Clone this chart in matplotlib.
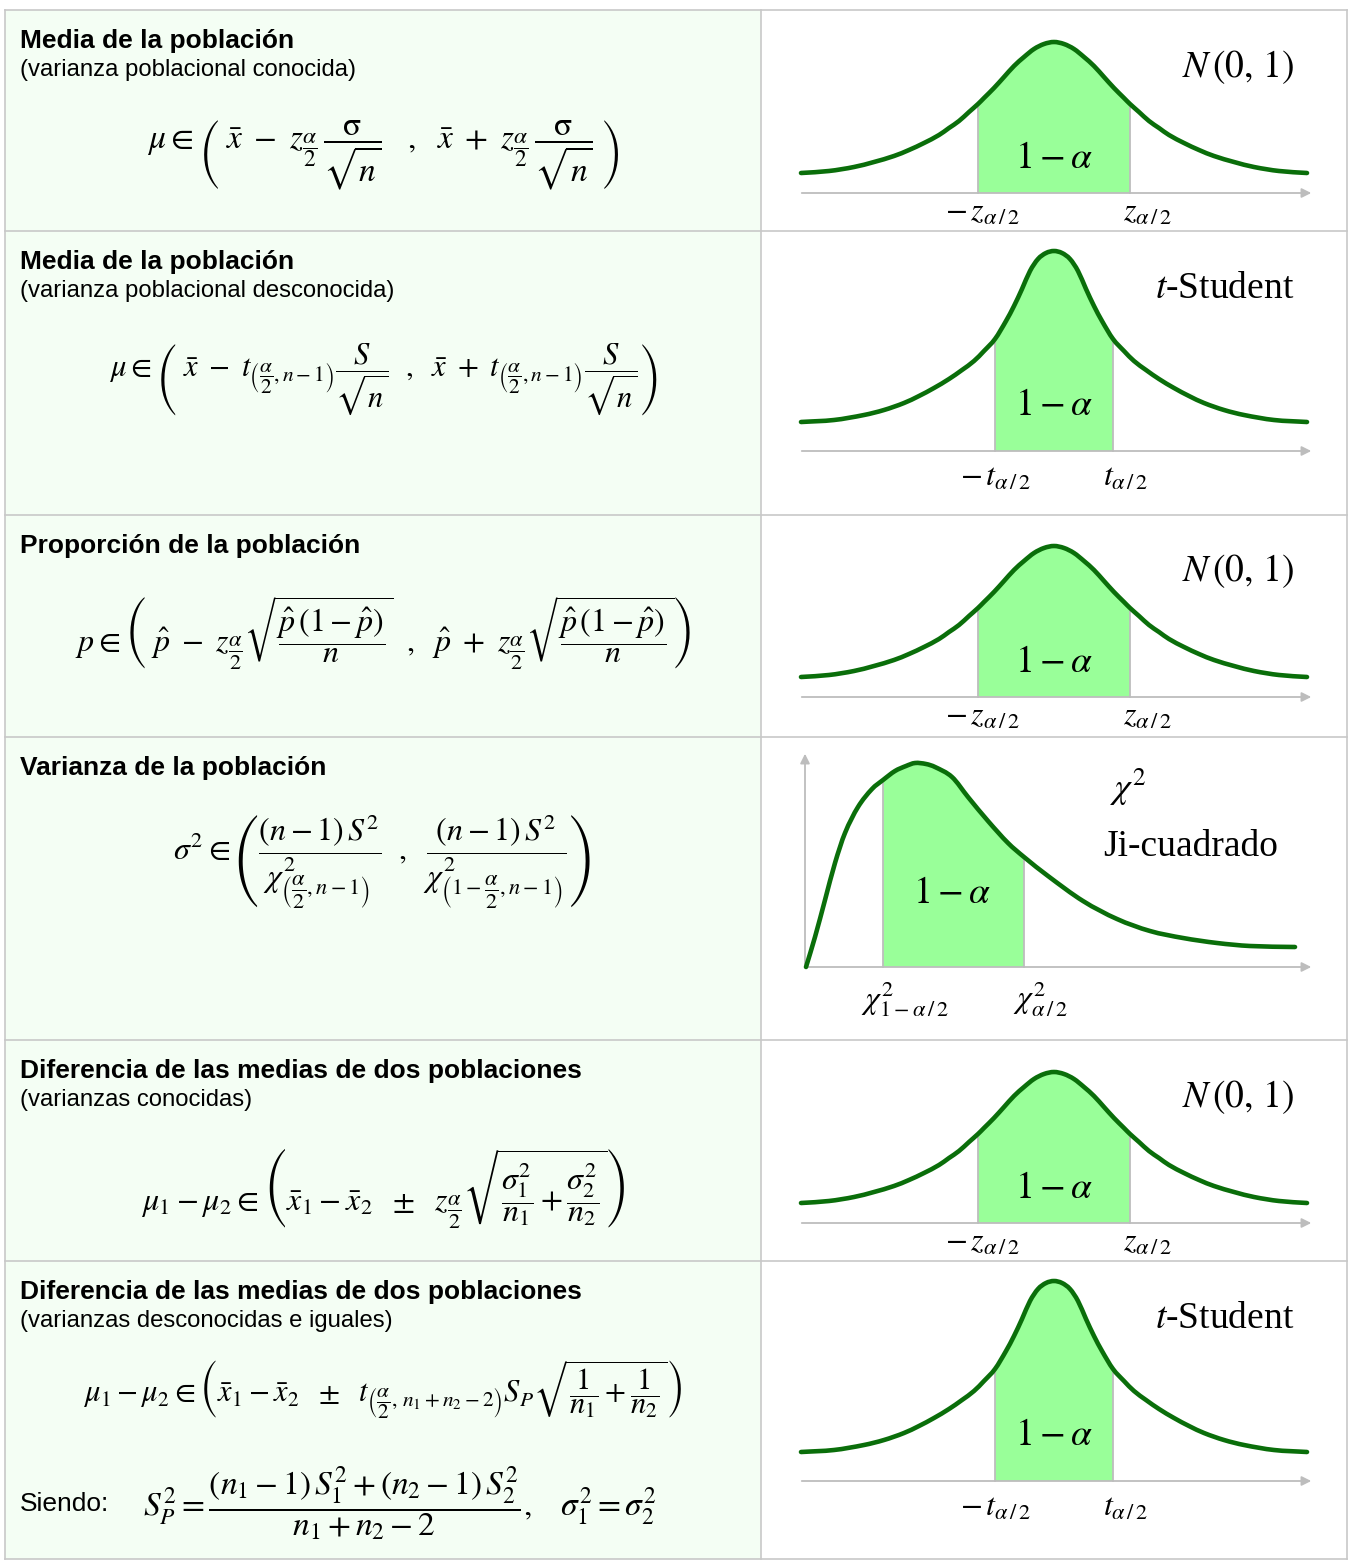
import numpy as np
import matplotlib
matplotlib.use('Agg')
import matplotlib.pyplot as plt
from matplotlib.path import Path
from matplotlib.patches import PathPatch, Rectangle

plt.rcParams['mathtext.fontset'] = 'stix'
plt.rcParams['font.family'] = ['Liberation Sans', 'DejaVu Sans']

W, H = 1349, 1560

# ------------------------------------------------------------------ data
titles = ["Media de la población", "Media de la población", "Proporción de la población",
          "Varianza de la población", "Diferencia de las medias de dos poblaciones",
          "Diferencia de las medias de dos poblaciones"]
subtitles = ["(varianza poblacional conocida)", "(varianza poblacional desconocida)", None,
             None, "(varianzas conocidas)", "(varianzas desconocidas e iguales)"]
formulas = [
    r'$\mu \in \left(\;\bar{x}\ -\ z_{\dfrac{\alpha}{2}}\,\dfrac{\mathrm{\sigma}}{\sqrt{n}}\quad,\ \ \bar{x}\ +\ z_{\dfrac{\alpha}{2}}\,\dfrac{\mathrm{\sigma}}{\sqrt{n}}\;\right)$',
    r'$\mu \in \left(\;\bar{x}\ -\ t_{\left(\dfrac{\alpha}{2},n-1\right)}\dfrac{S}{\sqrt{n}}\ \ ,\ \ \bar{x}\ +\ t_{\left(\dfrac{\alpha}{2},n-1\right)}\dfrac{S}{\sqrt{n}}\right)$',
    r'$p \in \left(\;\hat{p}\ -\ z_{\dfrac{\alpha}{2}}\sqrt{\dfrac{\hat{p}\,(1-\hat{p})}{n}}\ \ ,\ \ \hat{p}\ +\ z_{\dfrac{\alpha}{2}}\sqrt{\dfrac{\hat{p}\,(1-\hat{p})}{n}}\right)$',
    r'$\sigma^2 \in \left(\dfrac{(n-1)\,S^2}{\chi^{2}_{\left(\dfrac{\alpha}{2},n-1\right)}}\ \ ,\ \ \dfrac{(n-1)\,S^2}{\chi^{2}_{\left(1-\dfrac{\alpha}{2},n-1\right)}}\right)$',
    r'$\mu_1-\mu_2 \in \left(\bar{x}_1-\bar{x}_2\ \ \pm\ \ z_{\dfrac{\alpha}{2}}\sqrt{\dfrac{\sigma_1^2}{n_1}+\dfrac{\sigma_2^2}{n_2}}\right)$',
    r'$\mu_1-\mu_2 \in \left(\bar{x}_1-\bar{x}_2\ \ \pm\ \ t_{\left(\dfrac{\alpha}{2},\,n_1+n_2-2\right)}S_P\sqrt{\dfrac{1}{n_1}+\dfrac{1}{n_2}}\right)$',
]
formula_size = [24, 22, 23, 23, 23, 22]
siendo_label = "Siendo:"
siendo_formula = r'$S_P^2=\dfrac{(n_1-1)\,S_1^2+(n_2-1)\,S_2^2}{n_1+n_2-2},\quad \sigma_1^2=\sigma_2^2$'

# curve shapes (offset from centre, height above axis)
norm_x = [-253, -225, -200, -180, -160, -145, -130, -115, -105, -95, -85, -76, -70, -60, -50, -40, -30, -20, -10,
          0, 10, 20, 30, 40, 50, 60, 70, 76, 85, 95, 105, 115, 130, 145, 160, 180, 200, 225, 253]
norm_y = [20, 22, 26, 31, 37, 43, 50, 58, 65, 72, 81, 89, 95, 105, 116, 127, 136, 144, 149,
          151, 149, 144, 136, 127, 116, 105, 95, 89, 81, 72, 65, 58, 50, 43, 37, 31, 26, 22, 20]
norm_crit = 76

t_x = [-253, -220, -190, -170, -150, -135, -120, -105, -92, -80, -70, -59, -48, -40, -32, -24, -16, -8,
       0, 8, 16, 24, 32, 40, 48, 59, 70, 80, 92, 105, 120, 135, 150, 170, 190, 220, 253]
t_y = [29, 31, 36, 41, 48, 55, 63, 72, 81, 90, 100, 112, 130, 145, 162, 180, 192, 198,
       200, 198, 192, 180, 162, 145, 130, 112, 100, 90, 81, 72, 63, 55, 48, 41, 36, 31, 29]
t_crit = 59

chi_x = [0, 9, 19, 29, 39, 52, 66, 77, 89, 100, 109, 120, 129, 146, 162, 182, 202, 218, 242, 277, 311, 344, 377, 411, 444, 489]
chi_y = [0, 30, 67, 104, 134, 160, 178, 187, 196, 201, 204, 203, 200, 190, 170, 146, 124, 110, 91, 66, 48, 36, 29, 24, 21, 20]
chi_crit = (77, 218)

row_edges = [10, 231, 515, 737, 1040, 1261, 1559]
panel_kind = ['norm', 't', 'norm', 'chi', 'norm', 't']
axis_y = [193, 451, 697, 967, 1223, 1481]

# ------------------------------------------------------------------ style
LEFT_BG = '#f4fef4'
GRID = '#c8c8c8'
CURVE = '#0a6e0a'
FILL = '#99ff99'
AXC = '#bdbdbd'
SERIF = ['Liberation Serif', 'DejaVu Serif']

fig = plt.figure(figsize=(W / 100, H / 100), dpi=100)
bg = fig.add_axes([0, 0, 1, 1])
bg.set_xlim(0, W)
bg.set_ylim(H, 0)
bg.axis('off')

XL, XM, XR = 5, 761, 1347
bg.add_patch(plt.Rectangle((XL, row_edges[0]), XM - XL, row_edges[-1] - row_edges[0],
                           facecolor=LEFT_BG, edgecolor='none'))
for y in row_edges:
    bg.plot([XL, XR], [y, y], color=GRID, lw=1.2)
for x in (XL, XM, XR):
    bg.plot([x, x], [row_edges[0], row_edges[-1]], color=GRID, lw=1.2)

formula_pos = [(383, 155), (383, 380), (383, 633), (382, 862), (383, 1188), (383, 1390)]
for i in range(6):
    top = row_edges[i]
    bg.text(20, top + 38, titles[i], fontsize=19, fontweight='bold', va='baseline', ha='left', color='black')
    if subtitles[i]:
        bg.text(20, top + 66, subtitles[i], fontsize=17.2, va='baseline', ha='left', color='black')
    fx, fy = formula_pos[i]
    bg.text(fx, fy, formulas[i], fontsize=formula_size[i], ha='center', va='center')

bg.text(20, 1504, siendo_label, fontsize=19, va='center', ha='left')
bg.text(143, 1504, siendo_formula, fontsize=24, va='center', ha='left')


def px_axes(x0, y0, x1, y1):
    return fig.add_axes([x0 / W, 1 - y1 / H, (x1 - x0) / W, (y1 - y0) / H])


def smooth_path(x, y, close=False):
    """Cubic Hermite Bezier path through the given points (x increasing)."""
    x = np.asarray(x, float)
    y = np.asarray(y, float)
    n = len(x)
    m = np.empty(n)
    m[1:-1] = (y[2:] - y[:-2]) / (x[2:] - x[:-2])
    m[0] = (y[1] - y[0]) / (x[1] - x[0])
    m[-1] = (y[-1] - y[-2]) / (x[-1] - x[-2])
    verts = [(x[0], y[0])]
    codes = [Path.MOVETO]
    for i in range(n - 1):
        h = x[i + 1] - x[i]
        verts += [(x[i] + h / 3, y[i] + m[i] * h / 3),
                  (x[i + 1] - h / 3, y[i + 1] - m[i + 1] * h / 3),
                  (x[i + 1], y[i + 1])]
        codes += [Path.CURVE4] * 3
    if close:
        verts += [(x[-1], 0.0), (x[0], 0.0), (x[0], y[0])]
        codes += [Path.LINETO, Path.LINETO, Path.CLOSEPOLY]
    return Path(verts, codes)


for i, kind in enumerate(panel_kind):
    top, bot = row_edges[i] + 1, row_edges[i + 1] - 1
    Y = axis_y[i]
    cx = 806 if kind == 'chi' else 1054
    ax = px_axes(762, top, 1346, bot)
    ax.set_xlim(762 - cx, 1346 - cx)
    ax.set_ylim(Y - bot, Y - top)
    ax.axis('off')

    if kind == 'chi':
        x, y = np.array(chi_x, float), np.array(chi_y, float)
        lo, hi = chi_crit
    elif kind == 't':
        x, y = np.array(t_x, float), np.array(t_y, float)
        lo, hi = -t_crit, t_crit
    else:
        x, y = np.array(norm_x, float), np.array(norm_y, float)
        lo, hi = -norm_crit, norm_crit

    fillp = PathPatch(smooth_path(x, y, close=True), facecolor=FILL, edgecolor='none', zorder=1)
    ax.add_patch(fillp)
    fillp.set_clip_path(Rectangle((lo, -1), hi - lo, 400, transform=ax.transData))
    ylo = y[x == lo][0]
    yhi = y[x == hi][0]
    ax.plot([lo, lo], [0, ylo], color=AXC, lw=1.3, zorder=2)
    ax.plot([hi, hi], [0, yhi], color=AXC, lw=1.3, zorder=2)

    if kind == 'chi':
        ax.annotate('', xy=(508, 0), xytext=(-1, 0),
                    arrowprops=dict(arrowstyle='-|>', color=AXC, lw=1.3, mutation_scale=14))
        ax.annotate('', xy=(-1, 216), xytext=(-1, 0),
                    arrowprops=dict(arrowstyle='-|>', color=AXC, lw=1.3, mutation_scale=14))
    else:
        ax.annotate('', xy=(260, 0), xytext=(-255, 0),
                    arrowprops=dict(arrowstyle='-|>', color=AXC, lw=1.3, mutation_scale=14))

    ax.add_patch(PathPatch(smooth_path(x, y), facecolor='none', edgecolor=CURVE, lw=3.3,
                           capstyle='round', joinstyle='round', zorder=3))

    if kind == 'norm':
        ax.text(0, 35, r'$1-\alpha$', fontsize=27, ha='center', va='center')
        ax.text(184, 126, r'$N\,(0,\,1)$', fontsize=27, ha='center', va='center')
        ax.text(-72, -20, r'$-\,z_{\alpha\,/\,2}$', fontsize=23, ha='center', va='center')
        ax.text(94, -20, r'$z_{\alpha\,/\,2}$', fontsize=23, ha='center', va='center')
    elif kind == 't':
        ax.text(0, 46, r'$1-\alpha$', fontsize=27, ha='center', va='center')
        ax.text(171, 162, r'$t$-Student', fontsize=27, ha='center', va='center', family=SERIF)
        ax.text(-58, -27, r'$-\,t_{\alpha\,/\,2}$', fontsize=23, ha='center', va='center')
        ax.text(72, -27, r'$t_{\alpha\,/\,2}$', fontsize=23, ha='center', va='center')
    else:
        ax.text(146, 74, r'$1-\alpha$', fontsize=27, ha='center', va='center')
        ax.text(322, 180, r'$\chi^{2}$', fontsize=26, ha='center', va='center')
        ax.text(385, 120, 'Ji-cuadrado', fontsize=27, ha='center', va='center', family=SERIF)
        ax.text(99, -32, r'$\chi^{2}_{1-\alpha\,/\,2}$', fontsize=23, ha='center', va='center')
        ax.text(234, -32, r'$\chi^{2}_{\alpha\,/\,2}$', fontsize=23, ha='center', va='center')

fig.savefig('out.png', dpi=100, facecolor='white')
